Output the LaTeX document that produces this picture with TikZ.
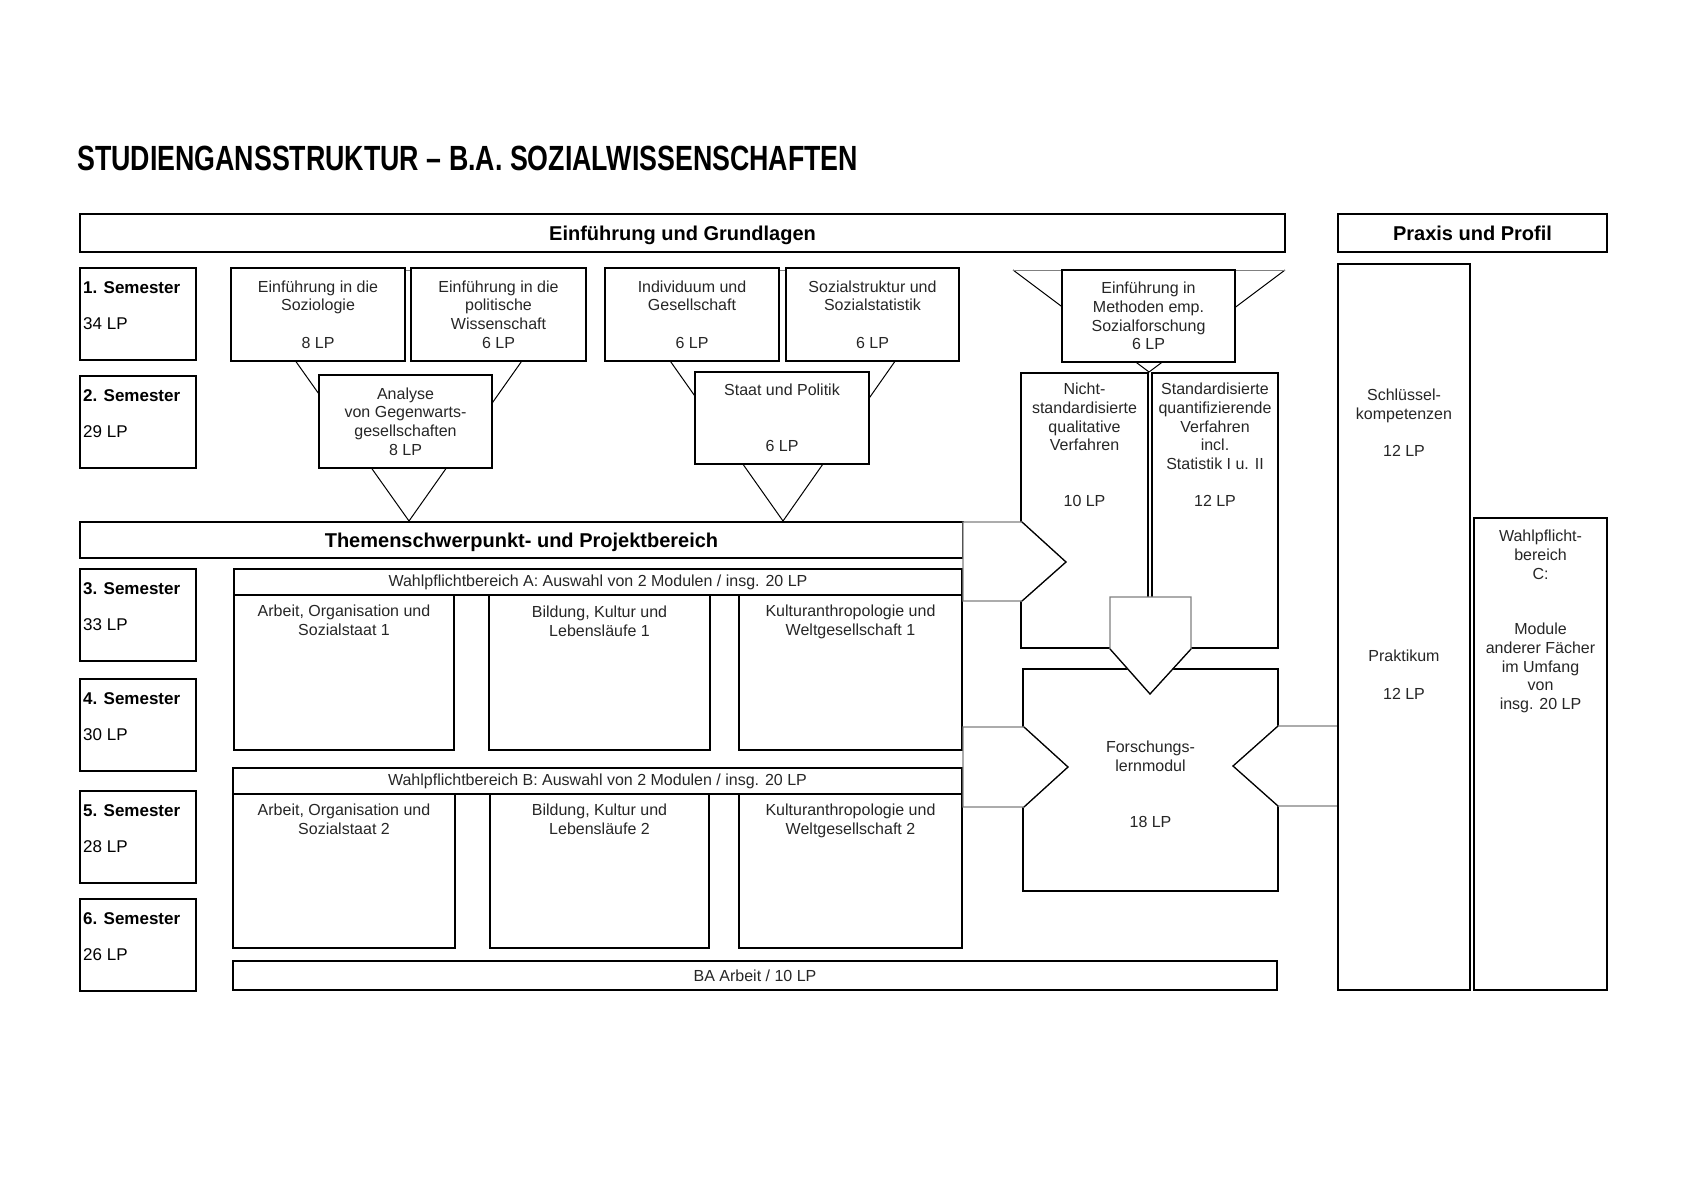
\documentclass[tikz,border=0pt]{standalone}
\usepackage{fontspec}
\setmainfont{Liberation Sans}
\usepackage{graphicx}
\usepackage{tikz}
\usetikzlibrary{arrows, shapes, positioning, calc}

\begin{document}
\begin{tikzpicture}[x=1pt, y=-1pt,
        box/.style={draw, line width=2pt, fill=white, inner sep=0pt, outer sep=0pt,
            anchor=north west, align=center, text=black!85,
            font=\fontsize{16}{18.6}\selectfont},
        bar/.style={box, text=black, text depth=0pt, font=\fontsize{20}{24}\selectfont\bfseries},
        sem/.style={box, minimum width=116pt, minimum height=92pt},
        lbl/.style={inner sep=0pt, align=center, anchor=north, text=black!85,
            font=\fontsize{16}{18.6}\selectfont},
        semlbl/.style={inner sep=0pt, align=left, anchor=north west, text=black,
            font=\fontsize{17}{18}\selectfont},
        tri/.style={line width=1pt},
        % pfeil/.style={->, >=latex, gray}
        pfeil/.style={fill=white, draw=gray, line width=1.2pt},
        spitze/.style={line width=1.2pt}
    ]
        \useasboundingbox (0,0) rectangle (1694,1189);

        % Title
        \node[anchor=base west, inner sep=0pt, font=\fontsize{35}{40}\selectfont\bfseries] (titel) at (77,170)
            {\scalebox{0.765}[1]{STUDIENGANSSTRUKTUR – B.A. SOZIALWISSENSCHAFTEN}};

        % Header bars
        \node[bar, minimum width=1205pt, minimum height=38pt] (grund) at (80,214) {Einführung und Grundlagen};
        \node[bar, minimum width=269pt, minimum height=38pt] (praxis) at (1338,214) {Praxis und Profil};

        % Semesters
        \node[sem, label={[semlbl, xshift=3pt, yshift=-13.5pt]north west:{\textbf{1. Semester}\\ \\34 LP}}] (s1) at (80,268) {};
        \node[sem, label={[semlbl, xshift=3pt, yshift=-13.5pt]north west:{\textbf{2. Semester}\\ \\29 LP}}] (s2) at (80,376) {};
        \node[sem, label={[semlbl, xshift=3pt, yshift=-13.5pt]north west:{\textbf{3. Semester}\\ \\33 LP}}] (s3) at (80,569) {};
        \node[sem, label={[semlbl, xshift=3pt, yshift=-13.5pt]north west:{\textbf{4. Semester}\\ \\30 LP}}] (s4) at (80,679) {};
        \node[sem, label={[semlbl, xshift=3pt, yshift=-13.5pt]north west:{\textbf{5. Semester}\\ \\28 LP}}] (s5) at (80,791) {};
        \node[sem, label={[semlbl, xshift=3pt, yshift=-13.5pt]north west:{\textbf{6. Semester}\\ \\26 LP}}] (s6) at (80,899) {};

        % Triangles behind the introductory modules
        \fill[white] (231,270) -- (409,521) -- (586,270) -- cycle;
        \draw[tri] (231,270) -- (409,521) -- (586,270);
        \draw[gray] (231,270) -- (586,270);
        \fill[white] (606,270) -- (783,521) -- (959,270) -- cycle;
        \draw[tri] (606,270) -- (783,521) -- (959,270);
        \draw[gray] (606,270) -- (959,270);
        \fill[white] (1013,270) -- (1149,372) -- (1285,270) -- cycle;
        \draw[tri] (1013,270) -- (1149,372) -- (1285,270);
        \draw[gray] (1013,270) -- (1285,270);

        % Introductory modules
        \node[box, minimum width=174pt, minimum height=93pt] (soz) at (231,268) {Einführung in die\\Soziologie\\ \\8 LP};
        \node[box, minimum width=175pt, minimum height=93pt] (pol) at (411,268) {Einführung in die\\politische\\Wissenschaft\\6 LP};
        \node[box, minimum width=174pt, minimum height=93pt] (ind) at (605,268) {Individuum und\\Gesellschaft\\ \\6 LP};
        \node[box, minimum width=173pt, minimum height=93pt] (sst) at (786,268) {Sozialstruktur und\\Sozialstatistik\\ \\6 LP};
        \node[box, minimum width=173pt, minimum height=92pt] (meth) at (1062,270) {Einführung in\\Methoden emp.\\Sozialforschung\\6 LP};
        \node[box, minimum width=173pt, minimum height=93pt] (ana) at (319,375) {Analyse\\von Gegenwarts-\\gesellschaften\\8 LP};
        \node[box, minimum width=174pt, minimum height=92pt] (staat) at (695,372) {Staat und Politik\\ \\ \\6 LP};

        % Methods
        \node[box, minimum width=127pt, minimum height=275pt,
            label={[lbl, yshift=-10pt]north:{Nicht-\\standardisierte\\qualitative\\Verfahren\\ \\ \\10 LP}}] (nst) at (1021,373) {};
        \node[box, minimum width=126pt, minimum height=275pt,
            label={[lbl, yshift=-10pt]north:{Standardisierte\\quantifizierende\\Verfahren\\incl.\\Statistik I u. II\\ \\12 LP}}] (std) at (1152,373) {};
        \node[box, minimum width=255pt, minimum height=222pt,
            label={[lbl, yshift=-72pt]north:{Forschungs-\\lernmodul\\ \\ \\18 LP}}] (fl) at (1023,669) {};

        % Themenschwerpunkt
        \node[bar, minimum width=883pt, minimum height=36pt] (themen) at (80,522) {Themenschwerpunkt- und Projektbereich};
        \node[box, minimum width=728pt, minimum height=26pt] (wpa) at (234,569) {Wahlpflichtbereich A: Auswahl von 2 Modulen / insg. 20 LP};
        \node[box, minimum width=220pt, minimum height=155pt,
            label={[lbl, yshift=-10pt]north:{Arbeit, Organisation und\\Sozialstaat 1}}] (arb1) at (234,595) {};
        \node[box, minimum width=221pt, minimum height=155pt,
            label={[lbl, yshift=-11pt]north:{Bildung, Kultur und\\Lebensläufe 1}}] (bil1) at (489,595) {};
        \node[box, minimum width=223pt, minimum height=155pt,
            label={[lbl, yshift=-10pt]north:{Kulturanthropologie und\\Weltgesellschaft 1}}] (kul1) at (739,595) {};
        \node[box, minimum width=729pt, minimum height=26pt] (wpb) at (233,768) {Wahlpflichtbereich B: Auswahl von 2 Modulen / insg. 20 LP};
        \node[box, minimum width=222pt, minimum height=154pt,
            label={[lbl, yshift=-10pt]north:{Arbeit, Organisation und\\Sozialstaat 2}}] (arb2) at (233,794) {};
        \node[box, minimum width=219pt, minimum height=154pt,
            label={[lbl, yshift=-10pt]north:{Bildung, Kultur und\\Lebensläufe 2}}] (bil2) at (490,794) {};
        \node[box, minimum width=223pt, minimum height=154pt,
            label={[lbl, yshift=-10pt]north:{Kulturanthropologie und\\Weltgesellschaft 2}}] (kul2) at (739,794) {};
        \node[box, minimum width=1044pt, minimum height=29pt] (ba) at (233,961) {BA Arbeit / 10 LP};

        % Block arrows
        \filldraw[pfeil] (963,522) -- (1022,522) -- (1066,562) -- (1022,601) -- (963,601) -- cycle;
        \draw[spitze] (1022,522) -- (1066,562) -- (1022,601);
        \filldraw[pfeil] (963,727) -- (1024,727) -- (1068,767) -- (1024,807) -- (963,807) -- cycle;
        \draw[spitze] (1024,727) -- (1068,767) -- (1024,807);
        \filldraw[pfeil] (1110,597) -- (1191,597) -- (1191,649) -- (1150,694) -- (1110,649) -- cycle;
        \draw[spitze] (1191,649) -- (1150,694) -- (1110,649);
        \filldraw[pfeil] (1338,726) -- (1278,726) -- (1233,766) -- (1278,806) -- (1338,806) -- cycle;
        \draw[spitze] (1278,726) -- (1233,766) -- (1278,806);

        % Praxis und Profil
        \node[box, minimum width=132pt, minimum height=726pt,
            label={[lbl, yshift=-125pt]north:{Schlüssel-\\kompetenzen\\ \\12 LP}},
            label={[lbl, yshift=-386pt]north:{Praktikum\\ \\12 LP}}] (sk) at (1338,264) {};
        \node[box, minimum width=133pt, minimum height=472pt,
            label={[lbl, yshift=-12pt]north:{Wahlpflicht-\\bereich\\C:\\ \\ \\Module\\anderer Fächer\\im Umfang\\von\\insg. 20 LP}}] (wpc) at (1474,518) {};
    \end{tikzpicture}
\end{document}
